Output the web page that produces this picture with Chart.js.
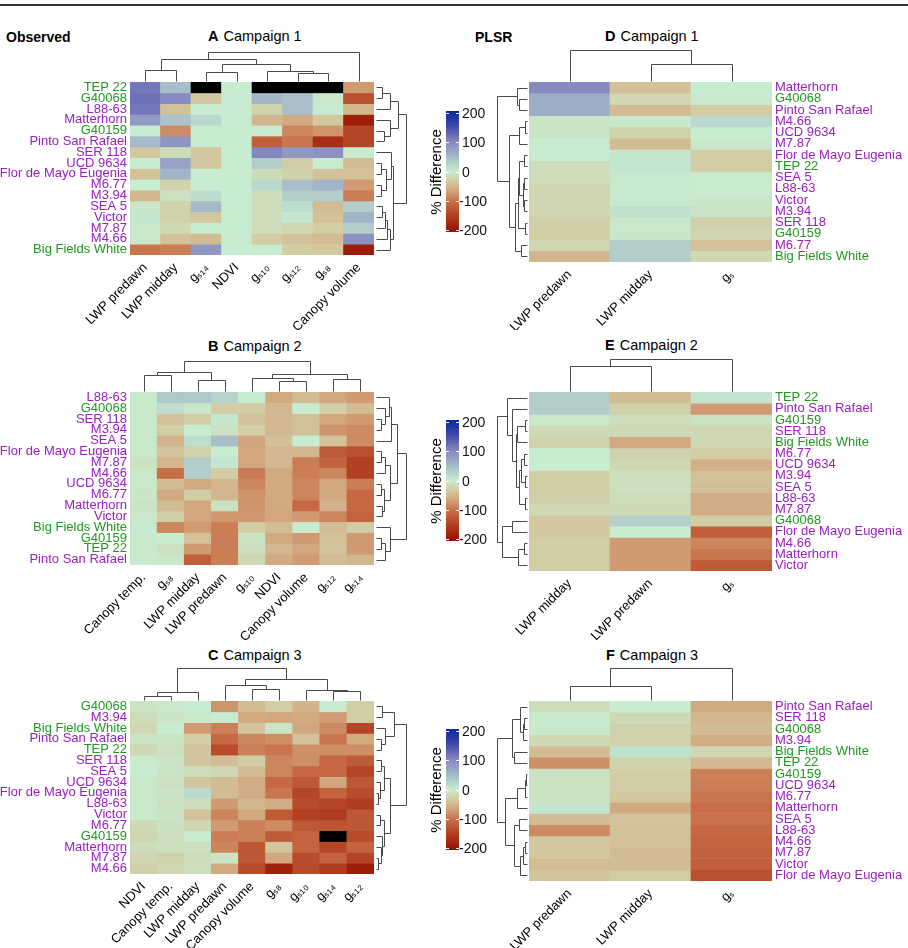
<!DOCTYPE html>
<html>
<head>
<meta charset="utf-8">
<script src="https://cdn.jsdelivr.net/npm/chart.js@4.4.1/dist/chart.umd.min.js"></script>
<style>
  body { margin: 0; background: #fff; font-family: "Liberation Sans", Arial, sans-serif; }
  #page { position: relative; width: 908px; height: 948px; overflow: hidden; }
  #rule { position: absolute; left: 0; top: 4px; width: 908px; height: 2px; background: #333; }
  canvas { position: absolute; }
  .hdr { position: absolute; font-weight: bold; font-size: 14px; }
  .ttl { position: absolute; font-size: 14.5px; white-space: nowrap; }
  .ttl b { margin-right: 5px; }
  .cbar { position: absolute; width: 13px; height: 121px; }
  .cbtick { position: absolute; font-size: 14px; color: #111; transform: translateY(-50%); }
  .cbtitle { position: absolute; font-size: 15px; white-space: nowrap; transform: translate(-50%, -50%) rotate(-90deg); }
</style>
</head>
<body>
<div id="page">
  <div id="rule"></div>
  <div class="hdr" style="left:6px;top:29px">Observed</div>
  <div class="hdr" style="left:475px;top:29px">PLSR</div>

  <div class="ttl" style="left:208px;top:28px"><b>A</b>Campaign 1</div>
  <div class="ttl" style="left:208px;top:338px"><b>B</b>Campaign 2</div>
  <div class="ttl" style="left:208px;top:647px"><b>C</b>Campaign 3</div>
  <div class="ttl" style="left:605px;top:28px"><b>D</b>Campaign 1</div>
  <div class="ttl" style="left:605px;top:337px"><b>E</b>Campaign 2</div>
  <div class="ttl" style="left:606px;top:647px"><b>F</b>Campaign 3</div>

  <canvas id="cA" width="420" height="305" style="left:0;top:25px"></canvas>
  <canvas id="cB" width="420" height="305" style="left:0;top:335px"></canvas>
  <canvas id="cC" width="420" height="308" style="left:0;top:640px"></canvas>
  <canvas id="cD" width="488" height="305" style="left:420px;top:25px"></canvas>
  <canvas id="cE" width="488" height="305" style="left:420px;top:335px"></canvas>
  <canvas id="cF" width="488" height="308" style="left:420px;top:640px"></canvas>
</div>
<script>
// genotypes shown in green, all the others in purple
const greenLines = ['TEP 22', 'G40068', 'G40159', 'Big Fields White'];

// colour scale: % difference -> rgb
const scaleStops = [
  [200, [8, 40, 160]], [150, [65, 72, 170]], [100, [132, 134, 190]], [50, [165, 185, 200]],
  [0, [200, 236, 208]], [-30, [210, 205, 165]], [-60, [210, 170, 130]], [-100, [200, 110, 70]],
  [-150, [175, 60, 30]], [-200, [150, 15, 0]]
];
const scaleTicks = [200, 100, 0, -100, -200];

// ---- Observed, campaign 1
const obsCols1 = ['LWP predawn', 'LWP midday', 'g\u209B\u2081\u2084', 'NDVI', 'g\u209B\u2081\u2080', 'g\u209B\u2081\u2082', 'g\u209B\u2088', 'Canopy volume'];
const obsRows1 = ['TEP 22', 'G40068', 'L88-63', 'Matterhorn', 'G40159', 'Pinto San Rafael', 'SER 118', 'UCD 9634',
  'Flor de Mayo Eugenia', 'M6.77', 'M3.94', 'SEA 5', 'Victor', 'M7.87', 'M4.66', 'Big Fields White'];
const obsVals1 = [
  [112, 45, null, 0, null, null, null, -70],
  [118, 95, -35, 2, 55, 45, -5, -130],
  [112, -40, 0, 2, -25, 45, 2, -50],
  [80, 40, 20, 0, -50, -60, -35, -185],
  [0, -80, 0, 0, -2, -85, -75, -140],
  [50, 85, 0, 0, -115, -95, -165, -140],
  [-35, -15, -35, 0, 100, 82, 88, 0],
  [0, 72, -35, 0, 30, -30, 0, -45],
  [-40, 55, 0, 0, -15, -25, -40, -40],
  [0, -25, 0, 0, 20, 45, 55, -70],
  [-50, -10, 15, 0, -15, 30, 30, -90],
  [-5, -25, 50, 0, -15, 15, -45, 30],
  [5, -25, -35, 0, -15, 5, -40, 55],
  [-5, -20, 0, 0, -15, -20, -30, 30],
  [-5, -40, -45, -2, -30, -40, -45, 88],
  [-95, -90, 82, 0, 0, -30, -35, -185]
];
// dendrograms: [left, right, height] with leaves as indices
const obsColTree1 = [[[0, 1, 0.37], [[2, 3, 0.30], [4, [5, 6, 0.27], 0.33], 0.6], 0.75], 7, 1];
const obsRowTree1 = [
  [[[0, 1, 0.2], 2, 0.45], [3, [4, 5, 0.25], 0.45], 0.72],
  [[6, [[7, 8, 0.18], [9, 10, 0.18], 0.33], 0.5], [[[[11, 12, 0.2], 13, 0.3], 14, 0.35], 15, 0.48], 0.55],
  1
];

// ---- Observed, campaign 2
const obsCols2 = ['Canopy temp.', 'g\u209B\u2088', 'LWP midday', 'LWP predawn', 'g\u209B\u2081\u2080', 'NDVI', 'Canopy volume', 'g\u209B\u2081\u2082', 'g\u209B\u2081\u2084'];
const obsRows2 = ['L88-63', 'G40068', 'SER 118', 'M3.94', 'SEA 5', 'Flor de Mayo Eugenia', 'M7.87', 'M4.66',
  'UCD 9634', 'M6.77', 'Matterhorn', 'Victor', 'Big Fields White', 'G40159', 'TEP 22', 'Pinto San Rafael'];
const obsVals2 = [
  [-3, 35, 35, 25, 0, -60, -45, -62, -70],
  [-3, 15, -5, -30, -30, -48, 0, -30, -45],
  [-3, -40, -30, 5, -40, -48, -40, -62, -70],
  [-3, -30, 0, -10, -30, -48, -40, -75, -80],
  [-3, -52, 15, 45, -62, -40, 0, -40, -80],
  [-5, -38, -25, 0, -62, -48, -50, -120, -130],
  [-10, -50, 30, 5, -62, -48, -90, -110, -145],
  [-5, -100, 30, -30, -92, -60, -90, -85, -145],
  [-5, -45, -60, -50, -85, -60, -85, -62, -90],
  [-5, -60, -30, -50, -75, -60, -85, -60, -105],
  [-8, -45, -62, -10, -75, -60, -105, -52, -105],
  [-5, -30, -62, -72, -72, -62, -70, -85, -110],
  [3, -85, -70, -90, -30, -45, 0, -45, -30],
  [-3, 0, -40, -90, -10, -60, -70, -40, -70],
  [-3, -10, -70, -90, -12, -48, -62, -38, -70],
  [-3, -5, -115, -90, -20, -60, -70, -45, -50]
];
const obsColTree2 = [[[0, 1, 0.54], [2, 3, 0.38], 0.64], [[4, [5, 6, 0.35], 0.43], [7, 8, 0.4], 0.57], 1];
const obsRowTree2 = [
  [[[0, [[2, 3, 0.15], 1, 0.3], 0.42], 4, 0.5], [[[5, 6, 0.15], 7, 0.3], [[8, 9, 0.18], [10, 11, 0.2], 0.28], 0.45], 0.7],
  [12, [[13, 14, 0.15], 15, 0.3], 0.45],
  1
];

// ---- Observed, campaign 3
const obsCols3 = ['NDVI', 'Canopy temp.', 'LWP midday', 'LWP predawn', 'Canopy volume', 'g\u209B\u2088', 'g\u209B\u2081\u2080', 'g\u209B\u2081\u2084', 'g\u209B\u2081\u2082'];
const obsRows3 = ['G40068', 'M3.94', 'Big Fields White', 'Pinto San Rafael', 'TEP 22', 'SER 118', 'SEA 5', 'UCD 9634',
  'Flor de Mayo Eugenia', 'L88-63', 'Victor', 'M6.77', 'G40159', 'Matterhorn', 'M7.87', 'M4.66'];
const obsVals3 = [
  [-8, -5, 0, -75, -45, -30, -52, 0, -30],
  [-15, -8, -5, 0, -60, -62, -60, -70, -30],
  [-20, 0, -70, -88, -38, -8, -62, -82, -140],
  [-8, -8, -30, -105, -85, -78, -40, -95, -60],
  [-20, -10, -38, -135, -88, -95, -78, -78, -78],
  [-2, -8, -38, -45, -30, -85, -78, -105, -118],
  [0, -8, -15, -20, -45, -85, -105, -105, -140],
  [-5, -10, -38, -45, -58, -105, -122, -62, -122],
  [-5, -8, 18, -45, -58, -95, -140, -110, -135],
  [-3, -10, -15, -70, -50, -58, -135, -140, -150],
  [-3, -8, -40, -85, -62, -118, -145, -150, -122],
  [-18, -10, -20, -70, -88, -80, -122, -125, -122],
  [-22, -12, 0, -90, -88, -118, -110, null, -135],
  [-15, -12, -12, -85, -122, -38, -110, -140, -110],
  [-20, -25, -15, -8, -122, -62, -135, -110, -140],
  [-28, -20, -12, -60, -135, -180, -135, -150, -185]
];
const obsColTree3 = [[[0, 1, 0.13], 2, 0.24], [[3, [4, 5, 0.34], 0.47], [6, [7, 8, 0.28], 0.31], 0.65], 1];
const obsRowTree3 = [
  [[0, 1, 0.2], [2, [3, 4, 0.15], 0.3], 0.6],
  [[[5, 6, 0.15], [7, [8, 9, 0.08], 0.13], 0.25], [[10, 11, 0.12], [12, [13, [14, 15, 0.08], 0.15], 0.2], 0.25], 0.45],
  1
];

// ---- PLSR, campaign 1
const plsrCols1 = ['LWP predawn', 'LWP midday', 'g\u209B'];
const plsrRows1 = ['Matterhorn', 'G40068', 'Pinto San Rafael', 'M4.66', 'UCD 9634', 'M7.87', 'Flor de Mayo Eugenia', 'TEP 22',
  'SEA 5', 'L88-63', 'Victor', 'M3.94', 'SER 118', 'G40159', 'M6.77', 'Big Fields White'];
const plsrVals1 = [
  [95, -40, 0], [62, -20, -3], [62, -45, -32], [-8, -3, 20], [-8, -25, 0], [0, -45, -5], [2, 5, -30], [-15, 5, -30],
  [-15, 3, -2], [-22, -3, -2], [-22, 3, -5], [-22, 12, -8], [-28, -5, -25], [-30, -5, -22], [-20, 30, -40], [-50, 30, -20]
];
const plsrColTree1 = [0, [1, 2, 0.55], 1];
const plsrRowTree1 = [
  [0, [1, 2, 0.26], 0.34],
  [[[3, 4, 0.07], 5, 0.26], [[[[6, 7, 0.1], [[8, 9, 0.1], [10, 11, 0.1], 0.15], 0.26], [12, 13, 0.07], 0.3], [14, 15, 0.21], 0.39], 0.6],
  1
];

// ---- PLSR, campaign 2
const plsrCols2 = ['LWP midday', 'LWP predawn', 'g\u209B'];
const plsrRows2 = ['TEP 22', 'Pinto San Rafael', 'G40159', 'SER 118', 'Big Fields White', 'M6.77', 'UCD 9634', 'M3.94',
  'SEA 5', 'L88-63', 'M7.87', 'G40068', 'Flor de Mayo Eugenia', 'M4.66', 'Matterhorn', 'Victor'];
const plsrVals2 = [
  [30, -45, 8], [30, -25, -70], [-5, -15, -10], [-18, -18, -20], [-25, -60, -20], [0, -25, -30], [0, -20, -55], [-30, -12, -40],
  [-30, -12, -42], [-28, -15, -58], [-18, -18, -58], [-35, 28, -30], [-35, 0, -115], [-30, -70, -85], [-30, -70, -95], [-30, -70, -120]
];
const plsrColTree2 = [[0, 1, 0.78], 2, 1];
const plsrRowTree2 = [
  [0, [1, [[[2, 3, 0.08], 4, 0.35], [[[5, 6, 0.1], [7, 8, 0.08], 0.2], [9, 10, 0.08], 0.27], 0.37], 0.5], 0.68],
  [[11, 12, 0.5], [[13, 14, 0.1], 15, 0.3], 0.82],
  1
];

// ---- PLSR, campaign 3
const plsrCols3 = ['LWP predawn', 'LWP midday', 'g\u209B'];
const plsrRows3 = ['Pinto San Rafael', 'SER 118', 'G40068', 'M3.94', 'Big Fields White', 'TEP 22', 'G40159', 'UCD 9634',
  'M6.77', 'Matterhorn', 'SEA 5', 'L88-63', 'M4.66', 'M7.87', 'Victor', 'Flor de Mayo Eugenia'];
const plsrVals3 = [
  [-15, 0, -60], [-2, -18, -50], [-3, -25, -45], [-18, -25, -58], [-45, 12, -20], [-78, -25, -48], [-10, -30, -88], [-10, -30, -90],
  [-10, -35, -95], [6, -60, -102], [-45, -38, -98], [-82, -40, -105], [-35, -40, -110], [-35, -45, -112], [-45, -45, -115], [-38, -32, -130]
];
const plsrColTree3 = [[0, 1, 0.45], 2, 1];
const plsrRowTree3 = [
  [[0, [[1, 2, 0.1], 3, 0.15], 0.24], [4, 5, 0.42], 0.5],
  [[[[6, 7, 0.05], 8, 0.08], 9, 0.35], [[10, 11, 0.27], [[[12, 13, 0.07], 14, 0.12], 15, 0.24], 0.45], 0.74],
  1
];

Chart.defaults.font.family = '"Liberation Sans", Arial, sans-serif';

function valColor(v) {
  if (v === null) return '#000';
  if (v >= scaleStops[0][0]) return 'rgb(' + scaleStops[0][1].join(',') + ')';
  for (let i = 0; i < scaleStops.length - 1; i++) {
    const [v0, c0] = scaleStops[i], [v1, c1] = scaleStops[i + 1];
    if (v <= v0 && v >= v1) {
      const t = (v0 - v) / (v0 - v1);
      const c = c0.map((x, k) => Math.round(x + (c1[k] - x) * t));
      return 'rgb(' + c.join(',') + ')';
    }
  }
  return 'rgb(' + scaleStops[scaleStops.length - 1][1].join(',') + ')';
}

function lineColor(name) {
  return greenLines.includes(name) ? '#1e9a1e' : '#9a20c0';
}

// draws the column tree above the heatmap and the row tree on one side of it
function makeDendro(colTree, rowTree, cfg) {
  return {
    id: 'dendro',
    afterDraw(chart) {
      const { ctx, chartArea: a } = chart;
      const xs = chart.scales.x, ys = chart.scales.y;
      ctx.save();
      ctx.strokeStyle = '#4a4a4a';
      ctx.lineWidth = 1;
      ctx.beginPath();
      const seg = (x1, y1, x2, y2) => {
        ctx.moveTo(Math.round(x1) + 0.5, Math.round(y1) + 0.5);
        ctx.lineTo(Math.round(x2) + 0.5, Math.round(y2) + 0.5);
      };
      const colY = h => a.top - 1 - h * cfg.colH;
      const walkCol = node => {
        if (typeof node === 'number') return { p: xs.getPixelForValue(node), h: 0 };
        const l = walkCol(node[0]), r = walkCol(node[1]);
        const y = colY(node[2]);
        seg(l.p, colY(l.h), l.p, y);
        seg(r.p, colY(r.h), r.p, y);
        seg(l.p, y, r.p, y);
        return { p: (l.p + r.p) / 2, h: node[2] };
      };
      const rowX = h => cfg.rowSide === 'right' ? a.right + 2 + h * cfg.rowH : a.left - 2 - h * cfg.rowH;
      const walkRow = node => {
        if (typeof node === 'number') return { p: ys.getPixelForValue(node + 0.5), h: 0 };
        const l = walkRow(node[0]), r = walkRow(node[1]);
        const x = rowX(node[2]);
        seg(rowX(l.h), l.p, x, l.p);
        seg(rowX(r.h), r.p, x, r.p);
        seg(x, l.p, x, r.p);
        return { p: (l.p + r.p) / 2, h: node[2] };
      };
      walkCol(colTree);
      walkRow(rowTree);
      ctx.stroke();
      ctx.restore();
    }
  };
}

function heatmap(id, cols, rows, vals, colTree, rowTree, cfg) {
  const datasets = rows.map((r, i) => ({
    label: r,
    data: cols.map(() => [i, i + 1]),
    backgroundColor: vals[i].map(valColor),
    grouped: false,
    barPercentage: 1,
    categoryPercentage: 1,
    borderWidth: 0
  }));
  new Chart(document.getElementById(id), {
    type: 'bar',
    data: { labels: cols, datasets },
    options: {
      responsive: false,
      animation: false,
      layout: { padding: { top: cfg.top, left: cfg.left, right: cfg.right, bottom: 0 } },
      plugins: { legend: { display: false }, tooltip: { enabled: false } },
      scales: {
        x: {
          grid: { display: false, drawTicks: false },
          border: { display: false },
          ticks: { autoSkip: false, maxRotation: 45, minRotation: 45, color: '#000', font: { size: 13 }, padding: 5 },
          afterFit: s => { s.height = cfg.xh; }
        },
        y: {
          type: 'linear', min: 0, max: rows.length, reverse: true, position: cfg.labelSide,
          grid: { display: false, drawTicks: false },
          border: { display: false },
          afterBuildTicks: s => { s.ticks = rows.map((_, i) => ({ value: i + 0.5 })); },
          ticks: {
            autoSkip: false,
            callback: (v, i) => rows[i],
            color: c => lineColor(rows[c.index]),
            font: { size: 13 },
            padding: 3
          },
          afterFit: s => { s.width = cfg.yw; }
        }
      }
    },
    plugins: [makeDendro(colTree, rowTree, cfg)]
  });
}

const obsCfg = { left: 0, right: 46, yw: 130, labelSide: 'left', rowSide: 'right', rowH: 30 };
heatmap('cA', obsCols1, obsRows1, obsVals1, obsColTree1, obsRowTree1, { ...obsCfg, top: 57, xh: 75, colH: 29 });
heatmap('cB', obsCols2, obsRows2, obsVals2, obsColTree2, obsRowTree2, { ...obsCfg, top: 57, xh: 75, colH: 30 });
heatmap('cC', obsCols3, obsRows3, obsVals3, obsColTree3, obsRowTree3, { ...obsCfg, top: 61, xh: 74, colH: 32 });

const plsrCfg = { left: 109, right: 0, yw: 136, labelSide: 'right', rowSide: 'left', rowH: 30 };
heatmap('cD', plsrCols1, plsrRows1, plsrVals1, plsrColTree1, plsrRowTree1, { ...plsrCfg, top: 57, xh: 68, colH: 31 });
heatmap('cE', plsrCols2, plsrRows2, plsrVals2, plsrColTree2, plsrRowTree2, { ...plsrCfg, top: 57, xh: 69, colH: 32 });
heatmap('cF', plsrCols3, plsrRows3, plsrVals3, plsrColTree3, plsrRowTree3, { ...plsrCfg, top: 61, xh: 67, colH: 32 });

// colour keys next to the PLSR panels
const page = document.getElementById('page');
const grad = 'linear-gradient(to bottom,' + scaleStops.map(s =>
  'rgb(' + s[1].join(',') + ') ' + ((200 - s[0]) / 4) + '%').join(',') + ')';
[111, 420, 729].forEach(top => {
  const bar = document.createElement('div');
  bar.className = 'cbar';
  bar.style.left = '446px';
  bar.style.top = top + 'px';
  bar.style.background = grad;
  page.appendChild(bar);
  scaleTicks.forEach(t => {
    const y = top + 2 + (200 - t) / 400 * 117;
    ['446px', '456px'].forEach(x => {
      const d = document.createElement('div');
      d.style.cssText = 'position:absolute;width:3px;height:1px;background:#fff;left:' + x + ';top:' + Math.round(y) + 'px';
      page.appendChild(d);
    });
    const lab = document.createElement('div');
    lab.className = 'cbtick';
    lab.style.left = (t < 0 ? 459 : 462) + 'px';
    lab.style.top = y + 'px';
    lab.textContent = t;
    page.appendChild(lab);
  });
  const ttl = document.createElement('div');
  ttl.className = 'cbtitle';
  ttl.style.left = '435px';
  ttl.style.top = (top + 61) + 'px';
  ttl.textContent = '% Difference';
  page.appendChild(ttl);
});
</script>
</body>
</html>
